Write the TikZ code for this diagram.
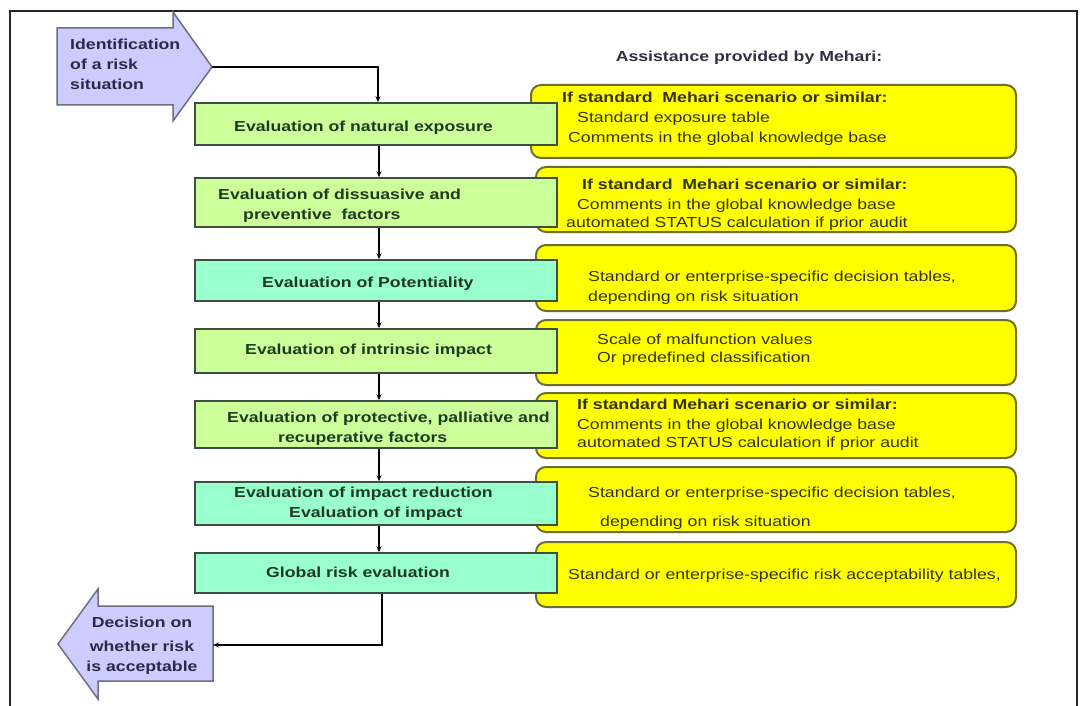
\documentclass[tikz,border=0pt]{standalone}
\usepackage{fontspec}
\setmainfont{Liberation Sans}[FakeStretch=1.22]
\usetikzlibrary{arrows.meta}
\definecolor{lgreen}{HTML}{CCFF99}
\definecolor{tealg}{HTML}{99FFCC}
\definecolor{yel}{HTML}{FFFF00}
\definecolor{lav}{HTML}{CCCCFF}
\definecolor{gborder}{HTML}{3F4F3F}
\definecolor{yborder}{HTML}{6E6E30}
\definecolor{aborder}{HTML}{6E6E80}
\definecolor{gtext}{HTML}{1F3A1F}
\definecolor{ytext}{HTML}{33330F}
\definecolor{atext}{HTML}{2A2A48}
\definecolor{htext}{HTML}{303040}
\begin{document}
\begin{tikzpicture}[x=1pt,y=-1pt,
  evbox/.style={draw=gborder,line width=1.5pt,minimum width=362pt,inner sep=0pt},
  lgbox/.style={evbox,fill=lgreen},
  tlbox/.style={evbox,fill=tealg},
  ybox/.style={draw=yborder,fill=yel,line width=2pt,rounded corners=10pt,inner sep=0pt,minimum width=480pt},
  blockarrow/.style={draw=aborder,fill=lav,line width=1.5pt,line join=miter},
  conn/.style={draw=black,line width=1.3pt,-{Stealth[length=6pt,width=5pt]}},
  basefont/.style={font=\fontsize{14.5}{20}\selectfont,inner sep=0pt},
  gtxt/.style={basefont,font=\fontsize{14.5}{20}\selectfont\bfseries,text=gtext,anchor=base west},
  ytxt/.style={basefont,text=ytext,anchor=base west},
  ybold/.style={ytxt,font=\fontsize{14.5}{20}\selectfont\bfseries},
  atxt/.style={basefont,font=\fontsize{14.5}{20}\selectfont\bfseries,text=atext},
]
\useasboundingbox (0,0) rectangle (1082,706);
\fill[white] (0,0) rectangle (1082,706);
% frame
\draw[line width=1.2pt,draw=black!85] (10,706) -- (10,11) -- (1077,11) -- (1077,706);

% yellow assistance boxes
\node[ybox,minimum width=485pt,minimum height=73pt] (y1) at (773.5,121.5) {};
\node[ybox,minimum height=65pt] (y2) at (776,199.5) {};
\node[ybox,minimum height=66pt] (y3) at (776,278) {};
\node[ybox,minimum height=65pt] (y4) at (776,352.5) {};
\node[ybox,minimum height=65pt] (y5) at (776,425.5) {};
\node[ybox,minimum height=65pt] (y6) at (776,499.5) {};
\node[ybox,minimum height=65pt] (y7) at (776,574.5) {};

% green evaluation boxes
\node[lgbox,minimum height=42pt] (b1) at (376,124) {};
\node[lgbox,minimum height=49pt] (b2) at (376,202.5) {};
\node[tlbox,minimum height=41pt] (b3) at (376,280.5) {};
\node[lgbox,minimum height=44pt] (b4) at (376,351) {};
\node[lgbox,minimum height=47pt] (b5) at (376,424.5) {};
\node[tlbox,minimum height=43pt] (b6) at (376,503.5) {};
\node[tlbox,minimum height=40pt] (b7) at (376,573) {};

% block arrows
\draw[blockarrow] (57,28) -- (173,28) -- (173,12) -- (212,67) -- (173,121) -- (173,105) -- (57,105) -- cycle;
\coordinate (idtip) at (212,67);
\draw[blockarrow] (213,606) -- (98,606) -- (98,589) -- (58,644) -- (98,699) -- (98,681) -- (213,681) -- cycle;
\coordinate (dectip) at (213,645);

% connectors
\draw[conn] (idtip) -| ([xshift=2pt]b1.north);
\draw[conn] ([xshift=3pt]b1.south) -- ([xshift=3pt]b2.north);
\draw[conn] ([xshift=3pt]b2.south) -- ([xshift=3pt]b3.north);
\draw[conn] ([xshift=3pt]b3.south) -- ([xshift=3pt]b4.north);
\draw[conn] ([xshift=3pt]b4.south) -- ([xshift=3pt]b5.north);
\draw[conn] ([xshift=3pt]b5.south) -- ([xshift=3pt]b6.north);
\draw[conn] ([xshift=3pt]b6.south) -- ([xshift=3pt]b7.north);
\draw[conn] ([xshift=6pt]b7.south) |- (dectip);

% heading
\node[basefont,font=\fontsize{14.5}{20}\selectfont\bfseries,text=htext,anchor=base] (hd) at (749,61.5) {Assistance provided by Mehari:};

% identification / decision texts
\node[atxt,anchor=base west] (i1) at (70,49.5) {Identification};
\node[atxt,anchor=base west] (i2) at (70,69.5) {of a risk};
\node[atxt,anchor=base west] (i3) at (70,89.5) {situation};
\node[atxt,anchor=base] (d1) at (142,627.5) {Decision on};
\node[atxt,anchor=base] (d2) at (142,651.5) {whether risk};
\node[atxt,anchor=base] (d3) at (142,671.5) {is acceptable};

% green box texts
\node[gtxt] (t1) at (234,131.5) {Evaluation of natural exposure};
\node[gtxt] (t2a) at (218,199.5) {Evaluation of dissuasive and};
\node[gtxt] (t2b) at (243,219.5) {preventive\ \ factors};
\node[gtxt] (t3) at (262,287.5) {Evaluation of Potentiality};
\node[gtxt] (t4) at (245,354.5) {Evaluation of intrinsic impact};
\node[gtxt] (t5a) at (227,422.5) {Evaluation of protective, palliative and};
\node[gtxt] (t5b) at (278,442.5) {recuperative factors};
\node[gtxt] (t6a) at (234,497.5) {Evaluation of impact reduction};
\node[gtxt] (t6b) at (289,517.5) {Evaluation of impact};
\node[gtxt] (t7) at (266,577.5) {Global risk evaluation};

% yellow box texts
\node[ybold] (u1a) at (562,102.5) {If standard\ \ Mehari scenario or similar:};
\node[ytxt] (u1b) at (577,122.5) {Standard exposure table};
\node[ytxt] (u1c) at (568,142.5) {Comments in the global knowledge base};
\node[ybold] (u2a) at (582,189.5) {If standard\ \ Mehari scenario or similar:};
\node[ytxt] (u2b) at (577,209.5) {Comments in the global knowledge base};
\node[ytxt] (u2c) at (566,227.5) {automated STATUS calculation if prior audit};
\node[ytxt] (u3a) at (588,281.5) {Standard or enterprise-specific decision tables,};
\node[ytxt] (u3b) at (588,301.5) {depending on risk situation};
\node[ytxt] (u4a) at (597,344.5) {Scale of malfunction values};
\node[ytxt] (u4b) at (597,362.5) {Or predefined classification};
\node[ybold] (u5a) at (577,409.5) {If standard Mehari scenario or similar:};
\node[ytxt] (u5b) at (577,429.5) {Comments in the global knowledge base};
\node[ytxt] (u5c) at (577,447.5) {automated STATUS calculation if prior audit};
\node[ytxt] (u6a) at (588,497.5) {Standard or enterprise-specific decision tables,};
\node[ytxt] (u6b) at (600,526.5) {depending on risk situation};
\node[ytxt] (u7) at (568,579.5) {Standard or enterprise-specific risk acceptability tables,};
\end{tikzpicture}
\end{document}
